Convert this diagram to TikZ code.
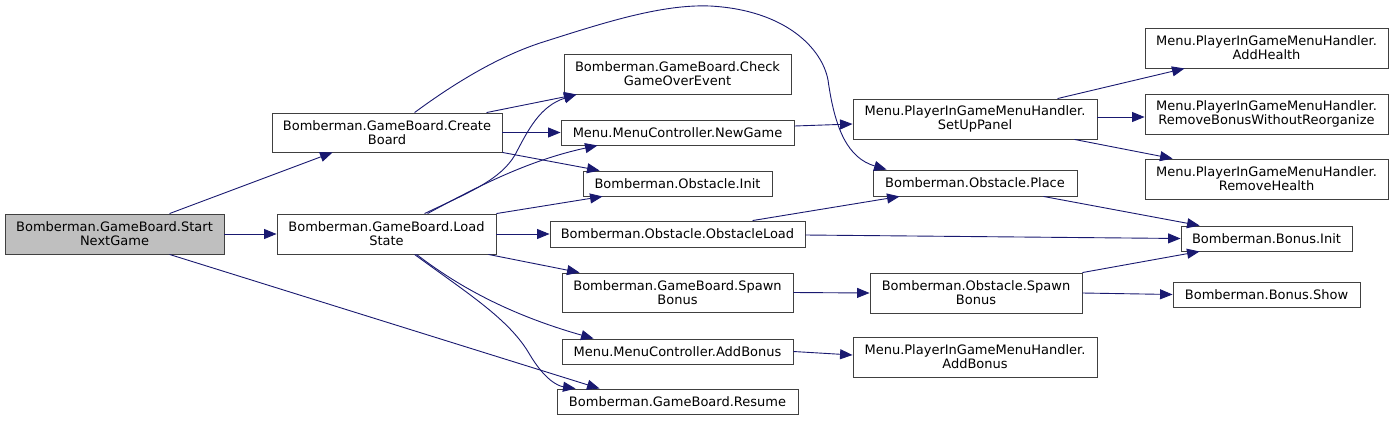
\documentclass[tikz,border=0pt]{standalone}
\usepackage{fontspec}
\setmainfont{DejaVu Sans}
\usetikzlibrary{arrows.meta}
\definecolor{edgecol}{HTML}{191970}
\definecolor{boxline}{HTML}{404040}
\definecolor{startfill}{HTML}{BFBFBF}
\tikzset{
  box/.style={draw=boxline, line width=0.9pt, fill=white, inner sep=0pt, align=center,
    font=\fontsize{13}{13.8}\selectfont},
  call/.style={draw=edgecol, line width=0.9pt, -{Triangle[length=12.5pt,width=10pt]}}
}
\newcommand\bx[7][]{\node[box,#1, minimum width={(#5-#3)*1pt}, minimum height={(#6-#4)*1pt}]
  (#2) at ({(#3+#5)/2},{(#4+#6)/2}) {#7};}
\begin{document}
\begin{tikzpicture}[x=1pt,y=-1pt]
\useasboundingbox (0,0) rectangle (1395,421);
% nodes
\bx[fill=startfill]{start}{5}{214}{224}{254}{Bomberman.GameBoard.Start\\NextGame}
\bx{create}{272}{113}{502}{152}{Bomberman.GameBoard.Create\\Board}
\bx{load}{277}{214}{496}{254}{Bomberman.GameBoard.Load\\State}
\bx{check}{564}{54}{791}{94}{Bomberman.GameBoard.Check\\GameOverEvent}
\bx{newgame}{561}{120}{794}{145}{Menu.MenuController.NewGame}
\bx{oinit}{583}{171}{772}{196}{Bomberman.Obstacle.Init}
\bx{oload}{550}{221}{805}{247}{Bomberman.Obstacle.ObstacleLoad}
\bx{gspawn}{562}{273}{793}{312}{Bomberman.GameBoard.Spawn\\Bonus}
\bx{mcadd}{562}{339}{793}{364}{Menu.MenuController.AddBonus}
\bx{resume}{557}{389}{798}{414}{Bomberman.GameBoard.Resume}
\bx{setup}{853}{99}{1097}{139}{Menu.PlayerInGameMenuHandler.\\SetUpPanel}
\bx{place}{873}{170}{1077}{196}{Bomberman.Obstacle.Place}
\bx{ospawn}{870}{273}{1082}{313}{Bomberman.Obstacle.Spawn\\Bonus}
\bx{pigadd}{853}{337}{1097}{377}{Menu.PlayerInGameMenuHandler.\\AddBonus}
\bx{addhealth}{1145}{28}{1388}{68}{Menu.PlayerInGameMenuHandler.\\AddHealth}
\bx{rembonus}{1145}{94}{1388}{134}{Menu.PlayerInGameMenuHandler.\\RemoveBonusWithoutReorganize}
\bx{remhealth}{1145}{159}{1388}{199}{Menu.PlayerInGameMenuHandler.\\RemoveHealth}
\bx{binit}{1181}{226}{1352}{251}{Bomberman.Bonus.Init}
\bx{bshow}{1173}{282}{1360}{307}{Bomberman.Bonus.Show}
% edges
\draw[call] ([xshift=165pt]start.north west) -- ([xshift=61pt]create.south west);
\draw[call] (start.east) -- (load.west);
\draw[call] ([xshift=165pt]start.south west) -- ([xshift=43pt]resume.north west);
\draw[call] ([xshift=215pt]create.north west) -- ([xshift=13pt]check.south west);
\draw[call] (create.east) -- (newgame.west);
\draw[call] (create.south east) -- ([xshift=17pt]oinit.north west);
\draw[call] ([xshift=143pt]create.north west) .. controls (452,85) and (495,58) .. (540,43)
  .. controls (600,24) and (660,4) .. (710,6)
  .. controls (785,10) and (822,48) .. (828,80)
  .. controls (835,130) and (848,158) .. ([xshift=14pt]place.north west);
\draw[call] ([xshift=148pt]load.north west) .. controls (470,192) and (500,180) .. (515,155)
  .. controls (528,130) and (540,106) .. ([xshift=13pt]check.south west);
\draw[call] ([xshift=151pt]load.north west) .. controls (480,185) and (530,160) .. ([xshift=37pt]newgame.south west);
\draw[call] (load.north east) -- ([xshift=20pt]oinit.south west);
\draw[call] (load.east) -- (oload.west);
\draw[call] ([xshift=-8pt]load.south east) -- ([xshift=18pt]gspawn.north west);
\draw[call] ([xshift=140pt]load.south west) .. controls (450,280) and (500,312) .. ([xshift=32pt]mcadd.north west);
\draw[call] ([xshift=138pt]load.south west) .. controls (470,295) and (510,320) .. (530,355)
  .. controls (545,380) and (558,386) .. ([xshift=19pt]resume.north west);
\draw[call] ([yshift=6.5pt]newgame.east) -- ([yshift=-5pt]setup.west);
\draw[call] ([xshift=205pt]setup.north west) -- ([xshift=40pt]addhealth.south west);
\draw[call] ([yshift=2pt]setup.east) -- ([yshift=-3pt]rembonus.west);
\draw[call] ([xshift=222pt]setup.south west) -- ([xshift=28pt]remhealth.north west);
\draw[call] ([xshift=203pt]oload.north west) -- ([xshift=27pt]place.south west);
\draw[call] ([yshift=-1pt]oload.east) -- (binit.west);
\draw[call] ([xshift=-34pt]place.south east) -- ([xshift=19pt]binit.north west);
\draw[call] (gspawn.east) -- (ospawn.west);
\draw[call] (ospawn.north east) -- ([xshift=19pt]binit.south west);
\draw[call] (ospawn.east) -- (bshow.west);
\draw[call] (mcadd.east) -- ([yshift=2pt]pigadd.west);
\end{tikzpicture}
\end{document}
